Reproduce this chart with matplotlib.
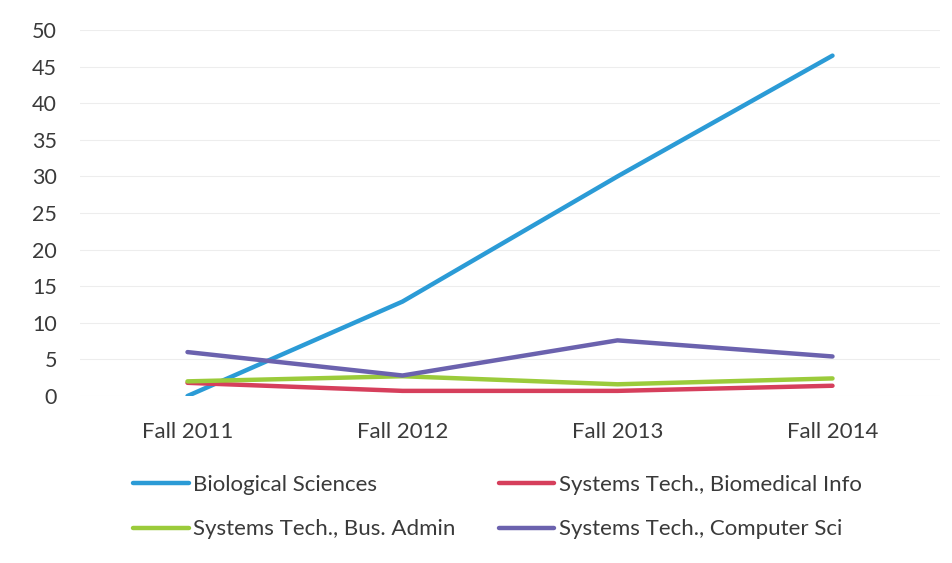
import matplotlib.pyplot as plt
from matplotlib.lines import Line2D

# data
terms = ["Fall 2011", "Fall 2012", "Fall 2013", "Fall 2014"]
bio_sci = [0, 12.9, 30, 46.5]
biomed_info = [1.8, 0.7, 0.7, 1.4]
bus_admin = [2.0, 2.7, 1.6, 2.4]
comp_sci = [6.0, 2.8, 7.6, 5.4]

names = ["Biological Sciences", "Systems Tech., Biomedical Info",
         "Systems Tech., Bus. Admin", "Systems Tech., Computer Sci"]
colors = ["#2B9BD6", "#D63F5C", "#9BCB3B", "#6B62AE"]

plt.rcParams['font.family'] = ['Lato', 'DejaVu Sans']

fig = plt.figure(figsize=(9.52, 5.63), dpi=100)
ax = fig.add_axes([80 / 952, 1 - 396 / 563, 860 / 952, 366 / 563])

x = list(range(len(terms)))
series = [bio_sci, biomed_info, bus_admin, comp_sci]
# draw order: purple, green, red, blue on top
for i in [3, 2, 1, 0]:
    ax.plot(x, series[i], color=colors[i], lw=3.2, solid_capstyle='round', zorder=3 + i)

ax.set_xlim(-0.5, 3.5)
ax.set_ylim(0, 50)
ax.set_yticks(range(0, 51, 5))
ax.set_xticks(x)
ax.set_xticklabels(terms)
ax.tick_params(axis='both', length=0, colors='#3a3a3a')
ax.tick_params(axis='y', pad=16.5, labelsize=15.5)
ax.tick_params(axis='x', pad=19, labelsize=16)
ax.grid(axis='y', color='#ededed', lw=0.8)
for s in ax.spines.values():
    s.set_visible(False)

handles = [Line2D([0], [0], color=c, lw=3.2, solid_capstyle='round') for c in colors]
# legend fills column by column, so put Bio / Bus. Admin in column 1
order = [0, 2, 1, 3]
leg = fig.legend([handles[i] for i in order], [names[i] for i in order],
                 loc='upper left', bbox_to_anchor=(133 / 952, 1 - 475 / 563),
                 ncol=2, frameon=False, fontsize=16, handlelength=2.5,
                 handletextpad=0.2, columnspacing=1.95, labelspacing=1.1,
                 borderpad=0, borderaxespad=0, labelcolor='#3a3a3a')

fig.savefig("out.png", dpi=100)
